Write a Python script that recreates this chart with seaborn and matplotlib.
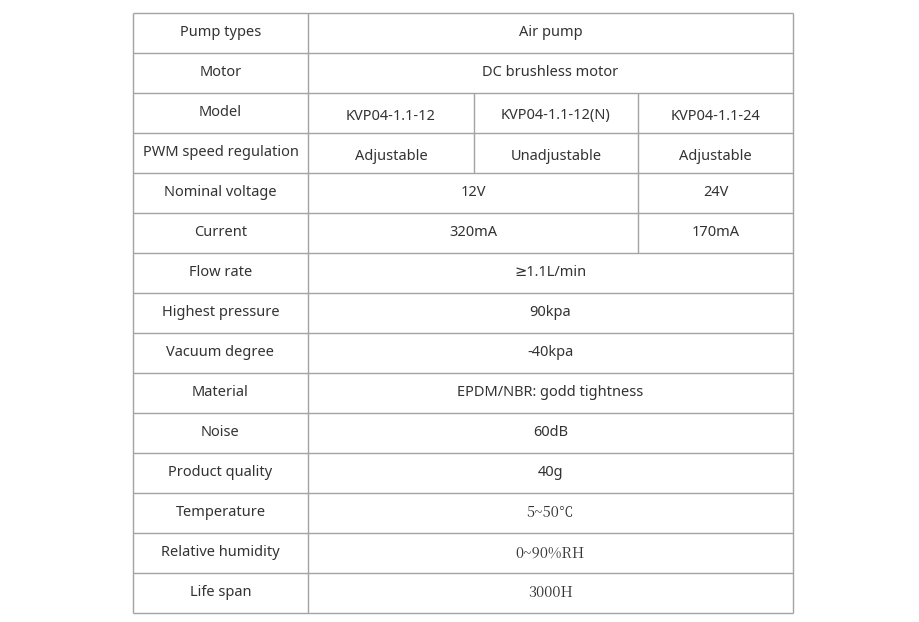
import matplotlib
matplotlib.use('Agg')
import matplotlib.pyplot as plt
import seaborn as sns

# table content
row_labels = ['Pump types', 'Motor', 'Model', 'PWM speed regulation', 'Nominal voltage',
              'Current', 'Flow rate', 'Highest pressure', 'Vacuum degree', 'Material',
              'Noise', 'Product quality', 'Temperature', 'Relative humidity', 'Life span']
# each row: list of (text, first column, last column) over the 3 value columns
row_values = [
    [('Air pump', 0, 2)],
    [('DC brushless motor', 0, 2)],
    [('KVP04-1.1-12', 0, 0), ('KVP04-1.1-12(N)', 1, 1), ('KVP04-1.1-24', 2, 2)],
    [('Adjustable', 0, 0), ('Unadjustable', 1, 1), ('Adjustable', 2, 2)],
    [('12V', 0, 1), ('24V', 2, 2)],
    [('320mA', 0, 1), ('170mA', 2, 2)],
    [('≥1.1L/min', 0, 2)],
    [('90kpa', 0, 2)],
    [('-40kpa', 0, 2)],
    [('EPDM/NBR: godd tightness', 0, 2)],
    [('60dB', 0, 2)],
    [('40g', 0, 2)],
    [('5~50℃', 0, 2)],
    [('0~90%RH', 0, 2)],
    [('3000H', 0, 2)],
]
serif_values = ['5~50℃', '0~90%RH', '3000H']

col_edges = [133, 308, 474, 638, 793]
top, row_h = 13, 40
line_color = '#a3a3a3'
text_color = '#333333'

sns.set_style('white')
plt.rcParams['font.family'] = ['Noto Sans', 'DejaVu Sans']

fig = plt.figure(figsize=(9.2, 6.22), dpi=100)
ax = fig.add_axes([0, 0, 1, 1])
ax.set_xlim(0, 920)
ax.set_ylim(622, 0)
ax.axis('off')

n = len(row_labels)
bottom = top + n * row_h
# outer frame and label column
for x in (col_edges[0], col_edges[1], col_edges[-1]):
    ax.vlines(x, top, bottom, color=line_color, lw=1)
for i in range(n + 1):
    ax.hlines(top + i * row_h, col_edges[0], col_edges[-1], color=line_color, lw=1)

for i, (label, cells) in enumerate(zip(row_labels, row_values)):
    y0 = top + i * row_h
    yc = y0 + row_h / 2
    ax.text((col_edges[0] + col_edges[1]) / 2, yc, label, ha='center', va='center',
            fontsize=10.5, color=text_color)
    for text, c0, c1 in cells:
        xl, xr = col_edges[c0 + 1], col_edges[c1 + 2]
        if c0 > 0:
            ax.vlines(xl, y0, y0 + row_h, color=line_color, lw=1)
        fam = ['Noto Serif CJK SC', 'Noto Sans CJK SC', 'DejaVu Serif'] if text in serif_values else ['Noto Sans', 'DejaVu Sans']
        ax.text((xl + xr) / 2, yc + (3 if i in (2, 3) else 0), text, ha='center', va='center',
                fontsize=10.5, color=text_color, family=fam)

fig.savefig('out.png', dpi=100, facecolor='white')
